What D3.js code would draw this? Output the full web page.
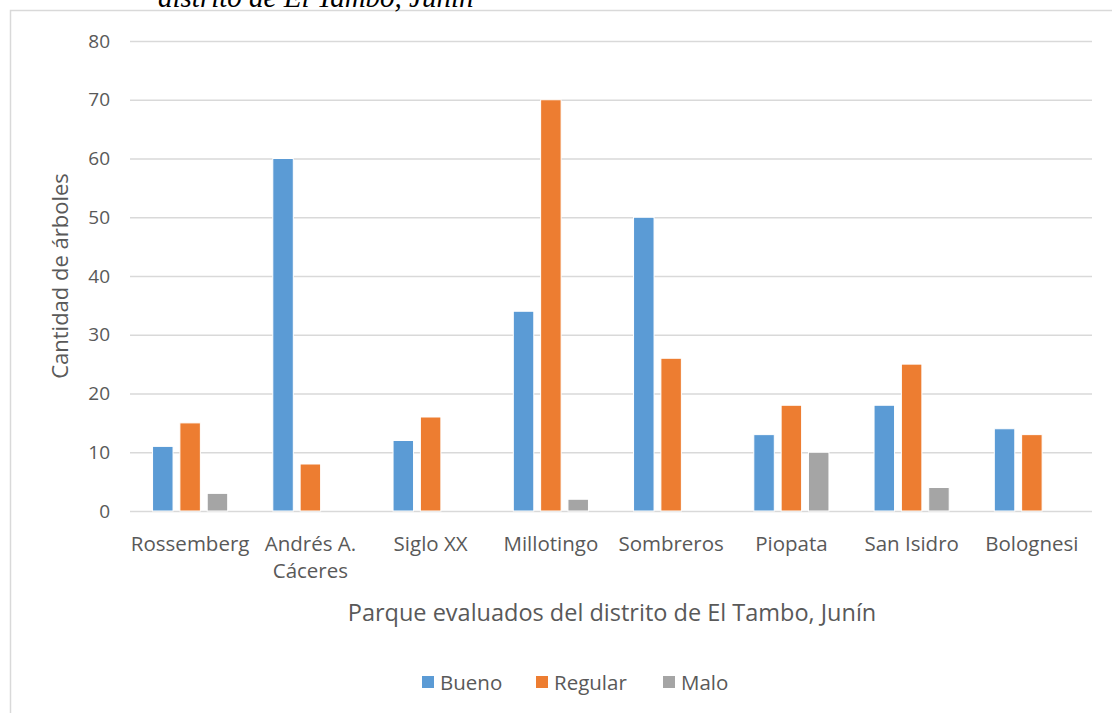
<!DOCTYPE html>
<html><head><meta charset="utf-8">
<script src="https://cdn.jsdelivr.net/npm/d3@7"></script>
<style>body{margin:0;background:#fff}svg{display:block}text{font-family:"Open Sans","Noto Sans",sans-serif;fill:#595959}</style>
</head><body><div id="chart"></div>
<script>
const parks=['Rossemberg','Andrés A. Cáceres','Siglo XX','Millotingo','Sombreros','Piopata','San Isidro','Bolognesi'];
const bueno=[11,60,12,34,50,13,18,14];
const regular=[15,8,16,70,26,18,25,13];
const malo=[3,0,0,2,0,10,4,0];
const seriesNames=['Bueno','Regular','Malo'];
const yTicks=[0,10,20,30,40,50,60,70,80];
const colors=['#5B9BD5','#ED7D31','#A5A5A5'];

const W=1112,H=713,m={l:130,r:20,t:41,b:202};
const svg=d3.select('#chart').append('svg').attr('width',W).attr('height',H);
// chart frame, runs off the right and bottom edges
svg.append('rect').attr('x',10.5).attr('y',10.5).attr('width',W+20).attr('height',H+20).attr('fill','none').attr('stroke','#d9d9d9').attr('stroke-width',1.5);
// caption fragment cut off at the top
svg.append('text').attr('x',158).attr('y',7).style('font-family','"Liberation Serif",serif').style('font-style','italic').style('font-size','29px').style('fill','#000').text('distrito de El Tambo, Junín');

const x=d3.scaleBand().domain(parks).range([m.l,W-m.r]).paddingInner(0.375).paddingOuter(0.1875);
const xs=d3.scaleBand().domain(seriesNames).range([0,x.bandwidth()]).paddingInner(0.25).paddingOuter(0);
const y=d3.scaleLinear().domain([0,80]).range([H-m.b,m.t]);

const g=svg.append('g');
g.append('g').attr('transform',`translate(${m.l},0)`).call(d3.axisLeft(y).tickValues(yTicks).tickSize(-(W-m.r-m.l)).tickPadding(20))
  .call(a=>a.select('.domain').remove())
  .call(a=>a.selectAll('line').attr('stroke','#d9d9d9').attr('stroke-width',1.5))
  .call(a=>a.selectAll('text').style('font-size','19px').style('fill','#595959'));

const data=parks.map((p,i)=>({p,v:[bueno[i],regular[i],malo[i]]}));
const grp=g.selectAll('.grp').data(data).join('g').attr('transform',d=>`translate(${x(d.p)},0)`);
grp.selectAll('rect').data(d=>d.v.map((v,j)=>({v,s:seriesNames[j],c:colors[j]})).filter(d=>d.v>0)).join('rect')
  .attr('x',d=>xs(d.s)).attr('width',xs.bandwidth()).attr('y',d=>y(d.v)).attr('height',d=>y(0)-y(d.v))
  .attr('fill',d=>d.c).attr('stroke','#fff').attr('stroke-width',1);

// category labels
const xa=g.append('g').attr('transform',`translate(0,${y(0)})`).call(d3.axisBottom(x).tickSize(0).tickPadding(25));
xa.select('.domain').remove();
xa.selectAll('text').style('font-size','20.5px').style('fill','#595959').each(function(d){
  const t=d3.select(this);
  if(d==='Andrés A. Cáceres'){t.text(null);t.append('tspan').attr('x',0).text('Andrés A.');t.append('tspan').attr('x',0).attr('dy','1.35em').text('Cáceres');}
});

svg.append('text').attr('transform','translate(68,276) rotate(-90)').attr('text-anchor','middle').style('font-size','22px').text('Cantidad de árboles');
svg.append('text').attr('x',612).attr('y',621).attr('text-anchor','middle').style('font-size','23.5px').text('Parque evaluados del distrito de El Tambo, Junín');

const leg=svg.append('g').attr('transform','translate(0,682)');
const legX=[422,536,663];
seriesNames.forEach((s,i)=>{
  const l=leg.append('g').attr('transform',`translate(${legX[i]},0)`);
  l.append('rect').attr('x',0).attr('y',-6).attr('width',12).attr('height',12).attr('fill',colors[i]);
  l.append('text').attr('x',18).attr('y',7.5).style('font-size','20.5px').text(s);
});
</script></body></html>
